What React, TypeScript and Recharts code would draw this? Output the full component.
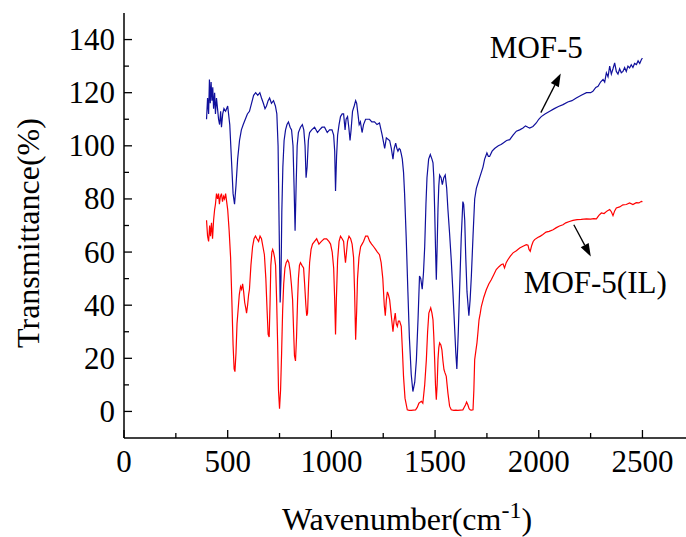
import React from 'react';
import { LineChart, Line, XAxis, YAxis, ReferenceLine, ReferenceDot } from 'recharts';

// [wavenumber (cm-1), transmittance (%)]
const MOF5_SPECTRUM = [
  [398,110],[403,118],[408,112],[412,125],[416,116],[420,124],[424,117],[428,122],[432,114],[437,120],
  [441,112],[446,118],[451,114],[456,110],[461,108],[466,113],[470,107],[476,112],[482,114],[490,113],
  [500,115],[510,108],[518,95],[526,82],[533,78],[540,85],[548,95],[557,102],[566,106],[575,108],
  [585,110],[595,112],[605,113],[615,116],[625,119],[635,120],[645,119],[655,120],[663,118],[672,116],
  [680,114],[687,115],[695,117],[702,118],[711,116],[721,117],[730,115],[737,112],[743,100],[748,70],
  [753,41],[757,50],[761,75],[766,92],[772,102],[779,106],[786,108],[793,109],[801,107],[808,106],
  [815,100],[820,85],[825,68],[830,85],[835,100],[841,105],[851,107],[860,108],[867,106],[873,100],
  [878,88],[883,92],[889,102],[895,105],[905,106],[919,107],[933,105],[943,106],[955,107],[967,107],
  [980,105],[991,106],[1003,106],[1011,104],[1016,98],[1020,83],[1025,96],[1030,104],[1037,108],[1044,111],
  [1052,112],[1059,112],[1066,106],[1071,110],[1078,111],[1084,107],[1090,102],[1095,106],[1102,113],[1110,115],
  [1117,117],[1122,116],[1128,112],[1134,108],[1140,109],[1148,105],[1155,108],[1165,110],[1175,110],[1184,110],
  [1195,109],[1208,109],[1220,108],[1232,108.6],[1245,104],[1257,99],[1265,103],[1273,102.5],[1281,102],[1289,99],
  [1297,95],[1303,99],[1310,101],[1316,99],[1321,98],[1327,99],[1332,98.6],[1337,97],[1342,95],[1348,90],
  [1353,82],[1361,65],[1369,45],[1376,28],[1385,14],[1393,7.5],[1402,11],[1410,19.5],[1418,35],[1425,51],
  [1431,50],[1438,46],[1444,52],[1450,62],[1456,78],[1461,88],[1469,95],[1477,96.7],[1485,95],[1490,93.6],
  [1494,88],[1498,76],[1502,62],[1506,49.6],[1510,62],[1514,76],[1518,85],[1522,89],[1529,88],[1535,85.4],
  [1542,88],[1549,89],[1556,84],[1562,76],[1570,67],[1578,57],[1586,45],[1594,32],[1600,22],[1605,16],
  [1612,30],[1618,45],[1626,65],[1634,79],[1638,78],[1643,72],[1648,58],[1654,45],[1663,36],[1669,42],
  [1675,51],[1683,66],[1691,80],[1699,84],[1707,86],[1715,88],[1723,90],[1731,92],[1739,95],[1750,97.3],
  [1757,96],[1763,96],[1775,98],[1787,99],[1805,100],[1818,100.5],[1827,101],[1845,102],[1860,102.3],[1876,104],
  [1892,105.5],[1908,106],[1924,106.7],[1936,107.5],[1948,107],[1956,106.7],[1972,107.3],[1988,108.6],[2000,110],[2012,111],
  [2030,112],[2053,113],[2075,114],[2095,114.8],[2117,115.5],[2140,116.5],[2160,117],[2181,118],[2205,119],[2230,120],
  [2250,120],[2261,120.5],[2275,122],[2286,122.4],[2298,124],[2310,125],[2318,124],[2326,127.5],[2334,126],[2342,130],
  [2350,127],[2358,129],[2366,131.2],[2374,128],[2382,127],[2390,129],[2398,127.5],[2406,128],[2414,129.5],[2422,128],
  [2430,130],[2438,129.3],[2446,130.5],[2454,129.5],[2462,131],[2471,130.6],[2479,132],[2487,131],[2495,132.5],[2500,133],
];

const MOF5_IL_SPECTRUM = [
  [398,72],[403,66],[408,64],[413,70],[417,66],[422,71],[427,65],[432,72],[437,76],[441,78],
  [446,82],[451,80],[456,82],[460,78],[465,81],[470,82],[475,79],[480,81],[485,80],[490,82],
  [495,79],[500,76],[507,68],[514,58],[520,42],[526,25],[531,16],[535,15],[540,22],[545,33],
  [550,38],[556,44],[562,47],[567,46],[572,48],[577,45],[582,41],[587,39],[591,37],[596,40],
  [601,44],[605,46],[612,55],[620,62],[627,65],[634,66],[641,65],[649,64],[656,66],[663,65],
  [670,62],[677,59],[684,50],[690,38],[695,29],[700,28],[704,40],[708,55],[713,60],[717,61],
  [721,60],[726,58],[731,55],[736,42],[741,25],[745,8],[750,1],[755,8],[760,22],[765,38],
  [770,48],[776,54],[782,56],[789,57],[795,56],[801,53],[807,48],[813,42],[818,30],[822,21],
  [827,19],[832,28],[837,42],[841,50],[846,55],[851,56],[858,55],[866,54],[871,48],[877,40],
  [881,36],[885,37],[890,48],[895,56],[902,61],[909,63],[919,64],[929,65],[940,63],[952,64],
  [965,65],[977,65],[988,64],[996,63],[1004,60],[1011,54],[1016,42],[1020,29],[1024,42],[1030,57],
  [1037,64],[1044,66],[1052,65],[1059,64],[1064,59],[1068,56],[1073,60],[1078,64],[1085,66],[1093,65],
  [1100,63],[1107,58],[1112,45],[1117,27],[1122,38],[1126,50],[1133,58],[1141,62],[1148,63],[1155,64],
  [1165,66],[1175,66],[1185,64],[1194,63],[1204,62],[1213,61],[1222,60],[1232,59],[1240,56],[1248,50],
  [1255,40],[1260,36],[1265,42],[1270,45],[1275,44],[1281,42],[1289,36],[1297,30],[1302,34],[1308,37],
  [1313,33],[1318,32],[1323,34],[1329,34],[1333,33],[1337,32],[1342,24],[1348,13],[1355,5],[1366,0.6],
  [1375,0.4],[1385,0.4],[1395,0.5],[1406,0.6],[1414,1.5],[1422,3.1],[1428,3.5],[1434,3.8],[1441,3.1],[1450,10],
  [1458,19.5],[1464,30],[1470,37],[1479,39],[1485,37],[1490,34.5],[1494,28],[1498,19.5],[1502,10],[1506,4.4],
  [1510,10],[1514,19.5],[1518,24],[1522,25.8],[1528,25],[1533,23.2],[1538,19],[1543,15.7],[1548,14.5],[1554,13.2],
  [1558,10],[1562,6.9],[1570,2],[1578,0.6],[1590,0.4],[1600,0.5],[1610,0.4],[1622,0.5],[1634,0.6],[1640,1.5],
  [1647,2.5],[1652,3.5],[1658,2.5],[1664,1],[1670,0.6],[1676,0.5],[1683,0.6],[1687,8],[1691,19.5],[1697,23],
  [1702,25.8],[1707,30],[1712,34.5],[1718,37],[1723,39.5],[1735,43],[1747,45.8],[1759,48],[1771,49.6],[1783,51.5],
  [1795,53.4],[1808,54.5],[1820,55.3],[1828,55.5],[1835,54],[1843,56],[1851,57.1],[1863,58.5],[1876,59.7],[1892,60.5],
  [1908,61.5],[1924,62.2],[1940,62.8],[1948,62.6],[1953,61],[1959,60.3],[1966,62.5],[1973,64],[1980,64.7],[1995,65.5],
  [2008,66],[2020,66.6],[2035,67.5],[2050,67.8],[2069,68.4],[2085,69.2],[2100,69.8],[2117,70.3],[2130,71],[2148,71.5],
  [2165,71.9],[2185,72.2],[2205,72.3],[2230,72.5],[2250,72.4],[2265,72.6],[2278,72.5],[2290,73.8],[2302,74.7],[2315,74.5],
  [2330,75.5],[2342,76],[2350,75.2],[2358,73.7],[2366,75.5],[2374,76.6],[2390,77],[2406,77.8],[2422,77.9],[2438,78.5],
  [2454,77.9],[2470,78.6],[2483,78.5],[2495,79.1],[2500,79],
];

const X_TICKS = [0, 250, 500, 750, 1000, 1250, 1500, 1750, 2000, 2250, 2500];
const Y_TICKS = [0, 10, 20, 30, 40, 50, 60, 70, 80, 90, 100, 110, 120, 130, 140];

// annotation arrows: [start, tip] in data coords
const MOF5_ARROW = [{ x: 2010, y: 112.5 }, { x: 2106, y: 127.2 }];
const MOF5_IL_ARROW = [{ x: 2169, y: 70.3 }, { x: 2251, y: 58.3 }];

const FONT = 'Liberation Serif';

const toRows = (pairs: number[][]) => pairs.map(([w, t]) => ({ w, t }));
const mof5Data = toRows(MOF5_SPECTRUM);
const mof5IlData = toRows(MOF5_IL_SPECTRUM);

const XTick = (props: any) => {
  const { x, y, payload } = props;
  const major = payload.value % 500 === 0;
  return (
    <g>
      <line x1={x} x2={x} y1={y} y2={y - (major ? 8 : 5)} stroke="#000" strokeWidth={1.3} />
      {major && (
        <text x={x} y={y + 34} textAnchor="middle" fontFamily={FONT} fontSize={31} fill="#000">
          {payload.value}
        </text>
      )}
    </g>
  );
};

const YTick = (props: any) => {
  const { x, y, payload } = props;
  const major = payload.value % 20 === 0;
  return (
    <g>
      <line x1={x} x2={x + (major ? 8 : 5)} y1={y} y2={y} stroke="#000" strokeWidth={1.3} />
      {major && (
        <text x={x - 9} y={y + 10.5} textAnchor="end" fontFamily={FONT} fontSize={31} fill="#000">
          {payload.value}
        </text>
      )}
    </g>
  );
};

const Arrow = (props: any) => {
  const { x1, y1, x2, y2 } = props;
  const ang = Math.atan2(y2 - y1, x2 - x1);
  const len = 13;
  const half = 4.5;
  const bx = x2 - len * Math.cos(ang);
  const by = y2 - len * Math.sin(ang);
  const px = -Math.sin(ang) * half;
  const py = Math.cos(ang) * half;
  return (
    <g>
      <line x1={x1} y1={y1} x2={bx} y2={by} stroke="#000" strokeWidth={1.3} />
      <polygon points={`${x2},${y2} ${bx + px},${by + py} ${bx - px},${by - py}`} fill="#000" />
    </g>
  );
};

const labelShape = (text: string) => (props: any) => (
  <text x={props.cx} y={props.cy} fontFamily={FONT} fontSize={31} fill="#000">
    {text}
  </text>
);

const renderXLabel = () => (
  <text x={407} y={530} textAnchor="middle" fontFamily={FONT} fontSize={32} fill="#000">
    Wavenumber(cm<tspan dy={-12} fontSize={24}>-1</tspan>
    <tspan dy={12}>)</tspan>
  </text>
);

const renderYLabel = () => (
  <text
    x={0}
    y={0}
    transform="translate(39 233) rotate(-90)"
    textAnchor="middle"
    fontFamily={FONT}
    fontSize={32}
    fill="#000"
  >
    Transmittance(%)
  </text>
);

export default function App() {
  return (
    <div style={{ position: 'absolute', left: 0, top: 0, background: '#fff' }}>
      <LineChart width={686} height={537} margin={{ top: 13, right: 0, bottom: 0, left: 0 }}>
        <XAxis
          type="number"
          dataKey="w"
          domain={[0, 2710]}
          ticks={X_TICKS}
          interval={0}
          height={99}
          tickSize={0}
          tickMargin={0}
          tick={XTick}
          axisLine={{ stroke: '#000', strokeWidth: 1.5 }}
          tickLine={false}
          label={renderXLabel}
          allowDataOverflow
        />
        <YAxis
          type="number"
          domain={[-10, 150]}
          ticks={Y_TICKS}
          interval={0}
          width={124}
          tickSize={0}
          tickMargin={0}
          tick={YTick}
          axisLine={{ stroke: '#000', strokeWidth: 1.5 }}
          tickLine={false}
          label={renderYLabel}
          allowDataOverflow
        />
        <Line
          data={mof5Data}
          dataKey="t"
          type="linear"
          stroke="#10109c"
          strokeWidth={1.2}
          dot={false}
          activeDot={false}
          isAnimationActive={false}
        />
        <Line
          data={mof5IlData}
          dataKey="t"
          type="linear"
          stroke="#ff0000"
          strokeWidth={1.2}
          dot={false}
          activeDot={false}
          isAnimationActive={false}
        />
        <ReferenceLine segment={MOF5_ARROW} shape={Arrow} ifOverflow="visible" />
        <ReferenceLine segment={MOF5_IL_ARROW} shape={Arrow} ifOverflow="visible" />
        <ReferenceDot x={1764} y={133.2} r={0} shape={labelShape('MOF-5')} ifOverflow="visible" />
        <ReferenceDot x={1928} y={44.7} r={0} shape={labelShape('MOF-5(IL)')} ifOverflow="visible" />
      </LineChart>
    </div>
  );
}
